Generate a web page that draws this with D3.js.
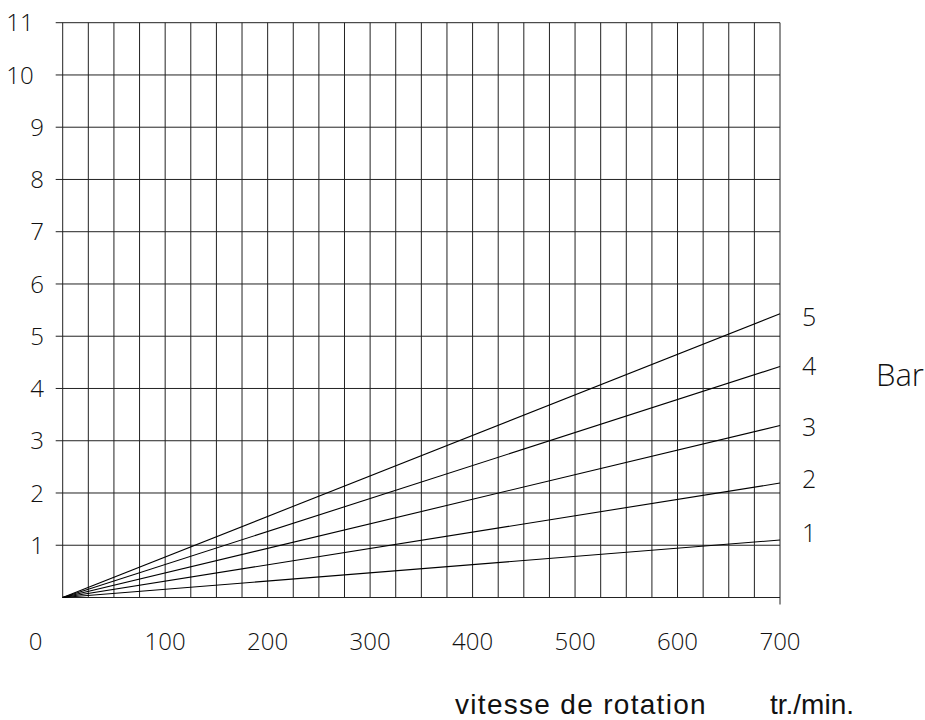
<!DOCTYPE html>
<html>
<head>
<meta charset="utf-8">
<script src="https://cdn.jsdelivr.net/npm/d3@7"></script>
<style>
  body { margin: 0; background: #fff; }
  text { font-family: "Open Sans", "DejaVu Sans", sans-serif; font-weight: 300; fill: #111; }
  .axis-title { font-family: "Liberation Sans", Arial, sans-serif; font-weight: 400; }
</style>
</head>
<body>
<svg width="925" height="720"></svg>
<script>
const svg = d3.select("svg")

// data
const curveNames = ["1", "2", "3", "4", "5"]
const rpmPoints = [0, 700]
const pressureAt700 = [1.1, 2.19, 3.29, 4.42, 5.43]
const xTicks = [0, 100, 200, 300, 400, 500, 600, 700]
const yTicks = [1, 2, 3, 4, 5, 6, 7, 8, 9, 10, 11]
const xLabel = "vitesse de rotation"
const xUnit = "tr./min."
const yUnit = "Bar"

const x = d3.scaleLinear().domain([0, 700]).range([62.7, 780])
const y = d3.scaleLinear().domain([0, 11]).range([597.5, 22.7])

const grid = svg.append("g").attr("stroke", "#222").attr("stroke-width", 1)

// vertical grid, every 25 tr/min
grid.selectAll(".v")
	.data(d3.range(0, 701, 25))
	.join("line")
	.attr("x1", d => x(d))
	.attr("x2", d => x(d))
	.attr("y1", y(11))
	.attr("y2", d => d == 700 ? y(0) + 7 : y(0))

// horizontal grid
grid.selectAll(".h")
	.data(d3.range(0, 12))
	.join("line")
	.attr("x1", d => d == 0 ? x(0) : x(0) - 7)
	.attr("x2", x(700))
	.attr("y1", d => y(d))
	.attr("y2", d => y(d))

// pressure lines
const line = d3.line().x(d => x(d[0])).y(d => y(d[1]))
svg.append("g")
	.selectAll("path")
	.data(pressureAt700)
	.join("path")
	.attr("d", v => line(rpmPoints.map(r => [r, v * r / 700])))
	.attr("fill", "none")
	.attr("stroke", "#000")
	.attr("stroke-width", 1.1)

// y tick labels
svg.append("g")
	.selectAll("text")
	.data(yTicks)
	.join("text")
	.attr("x", d => d >= 10 ? 20 : 37)
	.attr("y", d => y(d))
	.attr("dy", "0.36em")
	.attr("text-anchor", "middle")
	.attr("font-size", 24)
	.text(d => d)

// x tick labels
svg.append("g")
	.selectAll("text")
	.data(xTicks)
	.join("text")
	.attr("x", d => d == 0 ? x(0) - 27 : x(d))
	.attr("y", 641)
	.attr("dy", "0.36em")
	.attr("text-anchor", "middle")
	.attr("font-size", 24)
	.text(d => d)

// curve labels
const labelY = [533, 479, 426.7, 366, 316.7]
svg.append("g")
	.selectAll("text")
	.data(curveNames)
	.join("text")
	.attr("x", 802)
	.attr("y", (d, i) => labelY[i])
	.attr("dy", "0.36em")
	.attr("font-size", 25)
	.text(d => d)

svg.append("text")
	.attr("x", 876)
	.attr("y", 375)
	.attr("dy", "0.36em")
	.attr("font-size", 31)
	.text(yUnit)

svg.append("text")
	.attr("class", "axis-title")
	.attr("x", 455)
	.attr("y", 704)
	.attr("dy", "0.36em")
	.attr("font-size", 28)
	.attr("letter-spacing", 1.3)
	.text(xLabel)

svg.append("text")
	.attr("class", "axis-title")
	.attr("x", 770)
	.attr("y", 704)
	.attr("dy", "0.36em")
	.attr("font-size", 28)
	.text(xUnit)
</script>
</body>
</html>
